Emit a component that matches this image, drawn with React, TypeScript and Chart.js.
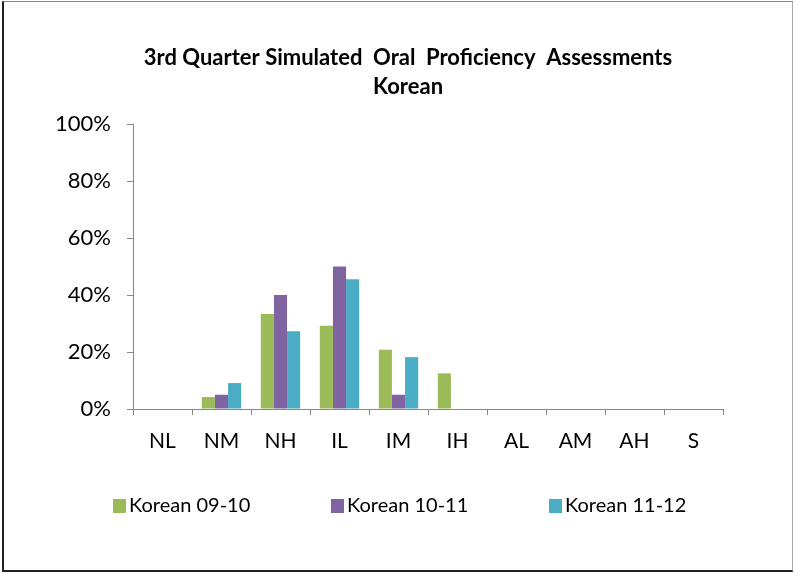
import React, { useEffect, useRef } from "react";
import { Chart, registerables } from "chart.js";

Chart.register(...registerables);

const categories = ["NL", "NM", "NH", "IL", "IM", "IH", "AL", "AM", "AH", "S"];
const korean0910 = [0, 4.2, 33.3, 29.2, 20.8, 12.5, 0, 0, 0, 0];
const korean1011 = [0, 5, 40, 50, 5, 0, 0, 0, 0, 0];
const korean1112 = [0, 9.1, 27.3, 45.5, 18.2, 0, 0, 0, 0, 0];
const seriesNames = ["Korean 09-10", "Korean 10-11", "Korean 11-12"];
const seriesColors = ["#9BBB59", "#8064A2", "#4BACC6"];
const titleLines = ["3rd Quarter Simulated  Oral  Proficiency  Assessments", "Korean"];
const yMin = 0;
const yMax = 100;
const yStep = 20;

const FONT = "Lato, 'Open Sans', sans-serif";
const AXIS = "#868686";

const titlePlugin = {
  id: "excelTitle",
  afterDraw(chart: any) {
    const ctx = chart.ctx;
    ctx.save();
    ctx.fillStyle = "#000";
    ctx.font = `bold 22px ${FONT}`;
    ctx.textAlign = "center";
    ctx.textBaseline = "middle";
    ctx.fillText(titleLines[0], 408, 58);
    ctx.fillText(titleLines[1], 408, 87);
    ctx.restore();
  },
};

const legendPlugin = {
  id: "excelLegend",
  afterDraw(chart: any) {
    const ctx = chart.ctx;
    ctx.save();
    ctx.font = `20px ${FONT}`;
    ctx.textAlign = "left";
    ctx.textBaseline = "middle";
    chart.data.datasets.forEach((ds: any, i: number) => {
      const x = 113 + i * 218;
      ctx.fillStyle = ds.backgroundColor;
      ctx.fillRect(x, 499, 13, 14);
      ctx.fillStyle = "#000";
      ctx.fillText(ds.label, x + 16, 506);
    });
    ctx.restore();
  },
};

export default function App() {
  const ref = useRef<HTMLCanvasElement | null>(null);

  useEffect(() => {
    document.body.style.margin = "0";
    const canvas = ref.current;
    if (!canvas) return;
    const chart = new Chart(canvas, {
      type: "bar",
      data: {
        labels: categories,
        datasets: [korean0910, korean1011, korean1112].map((d, i) => ({
          label: seriesNames[i],
          data: d,
          backgroundColor: seriesColors[i],
          borderWidth: 0,
          categoryPercentage: 0.667,
          barPercentage: 1,
        })),
      },
      options: {
        animation: false,
        responsive: false,
        devicePixelRatio: 1,
        layout: { padding: { left: 0, right: 71, top: 124, bottom: 87 } },
        plugins: {
          title: { display: false },
          tooltip: { enabled: false },
          legend: { display: false },
        },
        scales: {
          x: {
            grid: {
              display: true,
              drawOnChartArea: false,
              drawTicks: true,
              tickLength: 6,
              color: AXIS,
              offset: true,
            },
            border: { color: AXIS, width: 1 },
            ticks: {
              color: "#000",
              padding: 14,
              font: { family: FONT, size: 21 },
              maxRotation: 0,
            },
            afterFit: (s: any) => {
              s.height = 77;
            },
          },
          y: {
            min: yMin,
            max: yMax,
            grid: {
              display: true,
              drawOnChartArea: false,
              drawTicks: true,
              tickLength: 6,
              color: AXIS,
            },
            border: { color: AXIS, width: 1 },
            ticks: {
              stepSize: yStep,
              color: "#000",
              padding: 16,
              font: { family: FONT, size: 22 },
              callback: (v: any) => `${v}%`,
            },
            afterFit: (s: any) => {
              s.width = 133;
            },
          },
        },
      },
      plugins: [titlePlugin, legendPlugin],
    });
    return () => chart.destroy();
  }, []);

  return (
    <div style={{ position: "relative", width: 794, height: 573, background: "#fff" }}>
      <canvas ref={ref} width={794} height={573} style={{ position: "absolute", left: 0, top: 0 }} />
      <div
        style={{
          position: "absolute",
          left: 2,
          top: 1,
          width: 791,
          height: 571,
          boxSizing: "border-box",
          borderLeft: "2px solid #222",
          borderTop: "1px solid #888",
          borderRight: "1px solid #aaa",
          borderBottom: "2px solid #222",
          pointerEvents: "none",
        }}
      />
    </div>
  );
}
